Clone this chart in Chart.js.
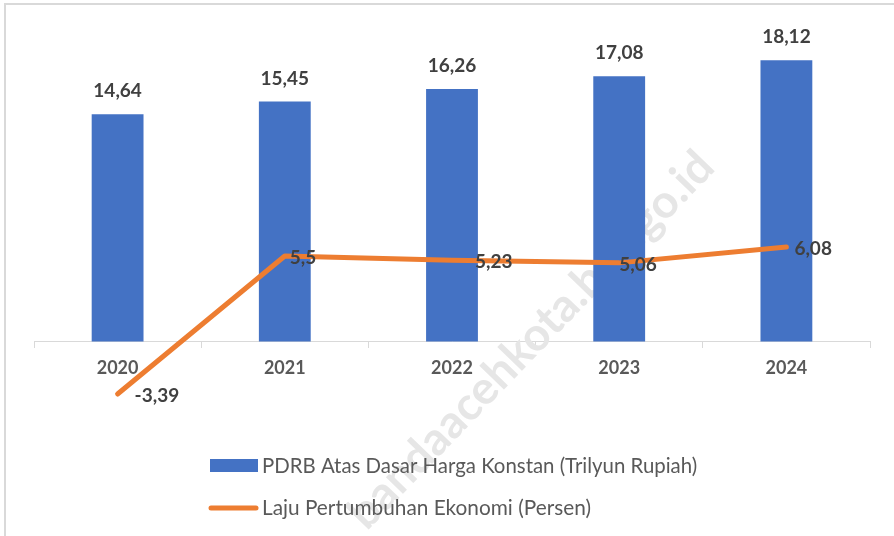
<!DOCTYPE html>
<html lang="id">
<head>
  <meta charset="UTF-8" />
  <title>PDRB dan Laju Pertumbuhan Ekonomi</title>
  <script src="https://cdn.jsdelivr.net/npm/chart.js"></script>
  <style>
    html, body { margin: 0; padding: 0; background: #fff; }
    canvas { display: block; }
  </style>
</head>
<body>
  <canvas id="chart" width="894" height="536"></canvas>

  <script>
    // data
    const years = ['2020', '2021', '2022', '2023', '2024'];
    const pdrb  = [14.64, 15.45, 16.26, 17.08, 18.12];
    const lpe   = [-3.39, 5.5, 5.23, 5.06, 6.08];
    const pdrbLabel = 'PDRB Atas Dasar Harga Konstan (Trilyun Rupiah)';
    const lpeLabel  = 'Laju Pertumbuhan Ekonomi (Persen)';
    const watermarkText = 'bandaacehkota.bps.go.id';

    // the line labels were nudged by hand in the original, keep that
    const lpeLabelShift = [17, 5, 23, 0, 8];

    const BLUE = '#4472C4', ORANGE = '#ED7D31';
    const FONT = 'Lato, "Open Sans", sans-serif';
    const fmt = v => String(v).replace('.', ',');

    // frame, watermark, data labels and the two-row legend
    const decor = {
      id: 'decor',
      beforeDraw(chart) {
        const c = chart.ctx;
        c.save();
        c.fillStyle = '#fff';
        c.fillRect(0, 0, chart.width, chart.height);
        c.strokeStyle = '#d9d9d9';
        c.lineWidth = 2;
        c.beginPath();
        c.moveTo(5, chart.height);
        c.lineTo(5, 4);
        c.lineTo(chart.width, 4);
        c.stroke();
        c.restore();
      },
      beforeDatasetsDraw(chart) {
        const c = chart.ctx;
        c.save();
        c.translate(531, 340);
        c.rotate(-46 * Math.PI / 180);
        c.font = 'bold 46px ' + FONT;
        c.fillStyle = '#e6e6e6';
        c.textAlign = 'center';
        c.textBaseline = 'middle';
        c.fillText(watermarkText, 0, 0);
        c.restore();
      },
      afterDatasetsDraw(chart) {
        const c = chart.ctx;
        c.save();
        c.font = 'bold 19px ' + FONT;
        c.fillStyle = '#404040';
        c.textBaseline = 'middle';

        c.textAlign = 'center';
        chart.getDatasetMeta(0).data.forEach((bar, i) => {
          c.fillText(fmt(pdrb[i]), bar.x, bar.y - 23);
        });

        c.textAlign = 'left';
        chart.getDatasetMeta(1).data.forEach((pt, i) => {
          c.fillText(fmt(lpe[i]), pt.x + lpeLabelShift[i], pt.y + 2);
        });
        c.restore();
      },
      afterDraw(chart) {
        const c = chart.ctx;
        const ds = chart.data.datasets;
        c.save();
        c.textBaseline = 'middle';
        c.textAlign = 'left';

        // row 1: bars
        c.font = '20.4px ' + FONT;
        c.fillStyle = ds[0].backgroundColor;
        c.fillRect(210, 459, 48, 13);
        c.fillStyle = '#595959';
        c.fillText(ds[0].label, 262, 466);

        // row 2: line
        c.font = '20.8px ' + FONT;
        c.strokeStyle = ds[1].borderColor;
        c.lineWidth = 5;
        c.lineCap = 'round';
        c.beginPath();
        c.moveTo(211, 508);
        c.lineTo(256, 508);
        c.stroke();
        c.fillText(ds[1].label, 262, 508);
        c.restore();
      }
    };

    new Chart(document.getElementById('chart'), {
      type: 'bar',
      data: {
        labels: years,
        datasets: [
          {
            label: pdrbLabel,
            data: pdrb,
            backgroundColor: BLUE,
            categoryPercentage: 1,
            barPercentage: 0.31,
            order: 1
          },
          {
            type: 'line',
            label: lpeLabel,
            data: lpe,
            borderColor: ORANGE,
            borderWidth: 5,
            borderCapStyle: 'round',
            borderJoinStyle: 'round',
            pointRadius: 0,
            tension: 0,
            order: 0
          }
        ]
      },
      options: {
        responsive: false,
        animation: false,
        layout: { padding: { left: 34, right: 24, top: 31, bottom: 117 } },
        plugins: {
          legend: { display: false },
          tooltip: { enabled: false }
        },
        scales: {
          y: { display: false, min: -5, max: 20 },
          x: {
            position: { y: 0 },
            grid: {
              display: true,
              drawOnChartArea: false,
              drawTicks: true,
              tickLength: 6,
              color: '#d9d9d9',
              offset: true
            },
            border: { display: true, color: '#d9d9d9', width: 1 },
            ticks: {
              color: '#595959',
              font: { family: FONT, size: 18, weight: 'bold' },
              padding: 10
            }
          }
        }
      },
      plugins: [decor]
    });
  </script>
</body>
</html>
